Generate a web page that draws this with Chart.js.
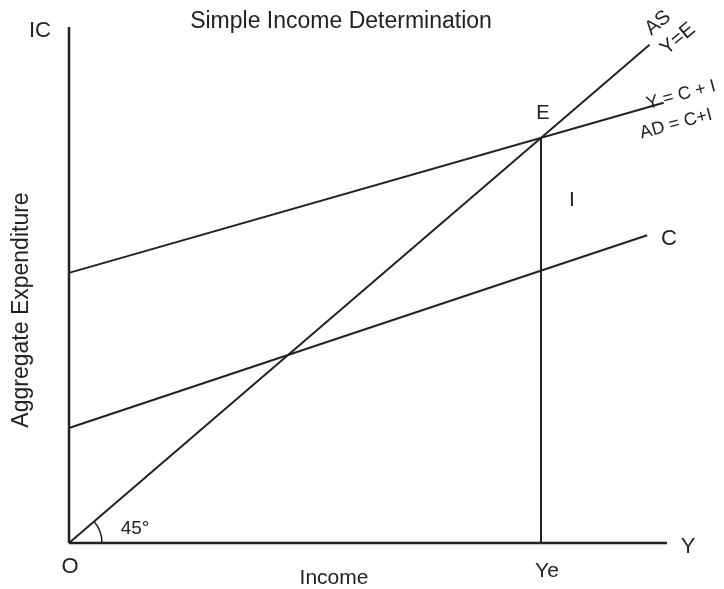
<!DOCTYPE html>
<html>
<head>
<meta charset="utf-8">
<title>Simple Income Determination</title>
<script src="https://cdn.jsdelivr.net/npm/chart.js@4/dist/chart.umd.min.js"></script>
<style>
  body { margin: 0; background: #fff; }
  #wrap { width: 724px; height: 589px; }
</style>
</head>
<body>
<div id="wrap"><canvas id="incomeChart" width="724" height="589"></canvas></div>
<script>
// axis ranges (income on x, aggregate expenditure on y)
const incomeRange = [0, 126.7];
const expenditureRange = [0, 127.4];

// AS : Y = E (45 degree line)
const asX = [0, 123];
const asY = [0, 123];

// AD : C + I
const adX = [0, 126];
const adY = [66.7, 108.7];

// C : consumption
const consX = [0, 122.5];
const consY = [28.4, 76];

// equilibrium income Ye
const yeX = [100, 100];
const yeY = [0, 100];

const lineColor = "#222";

function toPoints(xs, ys) {
  return xs.map((x, i) => ({ x: x, y: ys[i] }));
}

function lineSet(label, xs, ys, width) {
  return {
    label: label,
    data: toPoints(xs, ys),
    showLine: true,
    borderColor: lineColor,
    borderWidth: width || 2,
    pointRadius: 0,
    fill: false,
    clip: false,
  };
}

// text labels drawn on top of the chart (pixel positions)
const textLabels = [
  { text: "Simple Income Determination", x: 341, y: 22, size: 23 },
  { text: "IC", x: 40, y: 31, size: 22 },
  { text: "O", x: 70, y: 567, size: 22 },
  { text: "Income", x: 334, y: 578, size: 21 },
  { text: "Ye", x: 547, y: 571, size: 21 },
  { text: "Y", x: 688, y: 547, size: 22 },
  { text: "E", x: 543, y: 113, size: 20 },
  { text: "I", x: 572, y: 200, size: 21 },
  { text: "C", x: 669, y: 239, size: 22 },
  { text: "45°", x: 135, y: 529, size: 19 },
  { text: "AS", x: 658, y: 23, size: 20, rot: -40 },
  { text: "Y=E", x: 678, y: 39, size: 20, rot: -40 },
  { text: "Y = C + I", x: 681, y: 95, size: 18, rot: -15 },
  { text: "AD = C+I", x: 676, y: 124, size: 18, rot: -15 },
  { text: "Aggregate Expenditure", x: 22, y: 310, size: 23, rot: -90 },
];

const annotatePlugin = {
  id: "annotate",
  afterDatasetsDraw(chart) {
    const ctx = chart.ctx;
    const xs = chart.scales.x;
    const ys = chart.scales.y;
    const ox = xs.getPixelForValue(0);
    const oy = ys.getPixelForValue(0);
    const ex = xs.getPixelForValue(asX[1]);
    const ey = ys.getPixelForValue(asY[1]);
    const angle = Math.atan2(ey - oy, ex - ox);

    ctx.save();
    // 45 degree arc at the origin
    ctx.strokeStyle = lineColor;
    ctx.lineWidth = 1.5;
    ctx.beginPath();
    ctx.arc(ox, oy, 33, angle, 0);
    ctx.stroke();

    ctx.fillStyle = lineColor;
    ctx.textAlign = "center";
    ctx.textBaseline = "middle";
    textLabels.forEach((l) => {
      ctx.save();
      ctx.translate(l.x, l.y);
      if (l.rot) ctx.rotate((l.rot * Math.PI) / 180);
      ctx.font = l.size + "px 'Liberation Sans', Arial, sans-serif";
      ctx.fillText(l.text, 0, 0);
      ctx.restore();
    });
    ctx.restore();
  },
};

const ctx = document.getElementById("incomeChart").getContext("2d");
const incomeChart = new Chart(ctx, {
  type: "scatter",
  data: {
    datasets: [
      lineSet("x axis", incomeRange, [0, 0], 2.5),
      lineSet("y axis", [0, 0], expenditureRange, 2.5),
      lineSet("AS", asX, asY),
      lineSet("AD", adX, adY),
      lineSet("C", consX, consY),
      lineSet("Ye", yeX, yeY),
    ],
  },
  options: {
    responsive: false,
    animation: false,
    devicePixelRatio: 1,
    layout: {
      padding: { left: 69, right: 57, top: 27, bottom: 46 },
    },
    scales: {
      x: { type: "linear", min: incomeRange[0], max: incomeRange[1], display: false },
      y: { type: "linear", min: expenditureRange[0], max: expenditureRange[1], display: false },
    },
    plugins: {
      legend: { display: false },
      tooltip: { enabled: false },
      title: { display: false },
    },
  },
  plugins: [annotatePlugin],
});
</script>
</body>
</html>
